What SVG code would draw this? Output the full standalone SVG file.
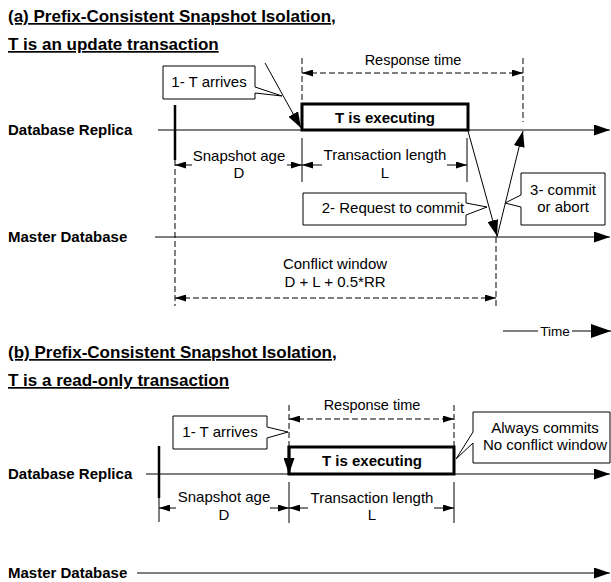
<svg xmlns="http://www.w3.org/2000/svg" width="611" height="582" viewBox="0 0 611 582">
<style>
text{font-family:"Liberation Sans",Arial,sans-serif;fill:#000}
.title{font-size:17px;font-weight:bold;text-decoration:underline}
.lbl{font-size:15px;font-weight:bold}
.t{font-size:15px;text-anchor:middle}
.tb{font-size:15px;font-weight:bold;text-anchor:middle}
.line{stroke:#000;stroke-width:1.2;fill:none}
.thin{stroke:#000;stroke-width:1;fill:none}
.dash{stroke:#000;stroke-width:1;fill:none;stroke-dasharray:6,3}
.thick{stroke:#000;stroke-width:2.5;fill:none}
.box{fill:#fff;stroke:#000;stroke-width:1}
.exec{fill:#fff;stroke:#000;stroke-width:3}
</style>
<defs>
<marker id="big" markerUnits="userSpaceOnUse" markerWidth="16" markerHeight="11" refX="16" refY="5.5" orient="auto-start-reverse"><path d="M0,0 L16,5.5 L0,11 Z" fill="#000"/></marker>
<marker id="huge" markerUnits="userSpaceOnUse" markerWidth="20" markerHeight="14" refX="20" refY="7" orient="auto"><path d="M0,0 L20,7 L0,14 Z" fill="#000"/></marker>
<marker id="dim" markerUnits="userSpaceOnUse" markerWidth="11" markerHeight="7" refX="11" refY="3.5" orient="auto-start-reverse"><path d="M0,0 L11,3.5 L0,7 Z" fill="#000"/></marker>
</defs>
<rect width="611" height="582" fill="#fff"/>

<!-- Part (a) -->
<g id="title-a">
<text class="title" x="8" y="22">(a) Prefix-Consistent Snapshot Isolation,</text>
<text class="title" x="8" y="50">T is an update transaction</text>
</g>
<g id="label-replica-a"><text class="lbl" x="8" y="135">Database Replica</text></g>
<g id="label-master-a"><text class="lbl" x="8" y="242">Master Database</text></g>

<g id="connectors-a">
<line class="line" x1="158" y1="130" x2="610" y2="130" marker-end="url(#big)"/>
<line class="line" x1="155" y1="237" x2="610" y2="237" marker-end="url(#big)"/>
<line class="thick" x1="175" y1="105" x2="175" y2="160"/>
<line class="dash" x1="175" y1="160" x2="175" y2="306"/>
<line class="dash" x1="302" y1="58" x2="302" y2="104"/>
<line class="thin" x1="302" y1="138" x2="302" y2="182"/>
<line class="thin" x1="467" y1="138" x2="467" y2="182"/>
<line class="dash" x1="523" y1="58" x2="523" y2="122"/>
<line class="dash" x1="496" y1="237" x2="496" y2="306"/>
<line class="dash" x1="302" y1="73" x2="523" y2="73" marker-start="url(#dim)" marker-end="url(#dim)"/>
<line class="thin" x1="192" y1="165" x2="175" y2="165" marker-end="url(#dim)"/>
<line class="thin" x1="287" y1="165" x2="302" y2="165" marker-end="url(#dim)"/>
<line class="thin" x1="322" y1="165" x2="302" y2="165" marker-end="url(#dim)"/>
<line class="thin" x1="447" y1="165" x2="467" y2="165" marker-end="url(#dim)"/>
<line class="dash" x1="175" y1="298" x2="496" y2="298" marker-start="url(#dim)" marker-end="url(#dim)"/>
<line class="thin" x1="265" y1="63" x2="301" y2="128" marker-end="url(#big)"/>
<line class="thin" x1="468" y1="131" x2="497" y2="236" marker-end="url(#big)"/>
<line class="thin" x1="497" y1="237" x2="523" y2="131" marker-end="url(#big)"/>
<line class="line" x1="503" y1="331" x2="538" y2="331"/>
<line class="line" x1="572" y1="331" x2="611" y2="331" marker-end="url(#huge)"/>
</g>

<g id="callout-arrives-a">
<path class="box" d="M163,66 H255 V87 L282,96 L255,93 V99 H163 Z"/>
<text class="t" x="209" y="87">1- T arrives</text>
</g>
<g id="exec-a">
<rect class="exec" x="302" y="104" width="166" height="26"/>
<text class="tb" x="385" y="123">T is executing</text>
</g>
<g id="response-a"><text class="t" x="413" y="65" style="font-size:14.5px">Response time</text></g>
<g id="snapshot-a">
<text class="t" x="239" y="161">Snapshot age</text>
<text class="t" x="239" y="178">D</text>
</g>
<g id="txlen-a">
<text class="t" x="385" y="160">Transaction length</text>
<text class="t" x="385" y="178">L</text>
</g>
<g id="callout-request-a">
<path class="box" d="M303,193 H466 V203 L487,207 L466,215 V225 H303 Z"/>
<text class="t" x="393" y="213">2- Request to commit</text>
</g>
<g id="callout-commit-a">
<path class="box" d="M521,173 H605 V225 H521 V207 L505,203 L521,195 Z"/>
<text class="t" x="563" y="195">3- commit</text>
<text class="t" x="563" y="212">or abort</text>
</g>
<g id="conflict-a">
<text class="t" x="335" y="269">Conflict window</text>
<text class="t" x="335" y="287">D + L + 0.5*RR</text>
</g>
<g id="time"><text class="t" x="555" y="336" style="font-size:13.5px">Time</text></g>

<!-- Part (b) -->
<g id="title-b">
<text class="title" x="8" y="358">(b) Prefix-Consistent Snapshot Isolation,</text>
<text class="title" x="8" y="386">T is a read-only transaction</text>
</g>
<g id="label-replica-b"><text class="lbl" x="8" y="479">Database Replica</text></g>
<g id="label-master-b"><text class="lbl" x="8" y="578">Master Database</text></g>

<g id="connectors-b">
<line class="line" x1="146" y1="474" x2="610" y2="474" marker-end="url(#big)"/>
<line class="line" x1="137" y1="573" x2="610" y2="573" marker-end="url(#big)"/>
<line class="thick" x1="159" y1="446" x2="159" y2="498"/>
<line class="thin" x1="159" y1="498" x2="159" y2="522"/>
<line class="dash" x1="289" y1="405" x2="289" y2="447"/>
<line class="dash" x1="454" y1="405" x2="454" y2="447"/>
<line class="thin" x1="289" y1="482" x2="289" y2="523"/>
<line class="thin" x1="454" y1="482" x2="454" y2="523"/>
<line class="dash" x1="289" y1="419" x2="454" y2="419" marker-start="url(#dim)" marker-end="url(#dim)"/>
<line class="thin" x1="176" y1="508" x2="159" y2="508" marker-end="url(#dim)"/>
<line class="thin" x1="270" y1="508" x2="289" y2="508" marker-end="url(#dim)"/>
<line class="thin" x1="308" y1="508" x2="289" y2="508" marker-end="url(#dim)"/>
<line class="thin" x1="434" y1="508" x2="454" y2="508" marker-end="url(#dim)"/>
</g>

<g id="exec-b">
<rect class="exec" x="289" y="447" width="165" height="27"/>
<text class="tb" x="372" y="466">T is executing</text>
</g>
<g id="arrive-arrow-b">
<line class="thick" x1="289" y1="446" x2="289" y2="474" marker-end="url(#big)"/>
</g>
<g id="callout-arrives-b">
<path class="box" d="M173,416 H267 V427 L288,432 L267,438 V449 H173 Z"/>
<text class="t" x="220" y="437">1- T arrives</text>
</g>
<g id="response-b"><text class="t" x="372" y="410" style="font-size:14.5px">Response time</text></g>
<g id="snapshot-b">
<text class="t" x="224" y="502">Snapshot age</text>
<text class="t" x="224" y="520">D</text>
</g>
<g id="txlen-b">
<text class="t" x="372" y="503">Transaction length</text>
<text class="t" x="372" y="520">L</text>
</g>
<g id="callout-always-b">
<path class="box" d="M473,412 H610 V463 H473 V443 L456,459 L473,432 Z"/>
<text class="t" x="545" y="433">Always commits</text>
<text class="t" x="545" y="450">No conflict window</text>
</g>
</svg>
